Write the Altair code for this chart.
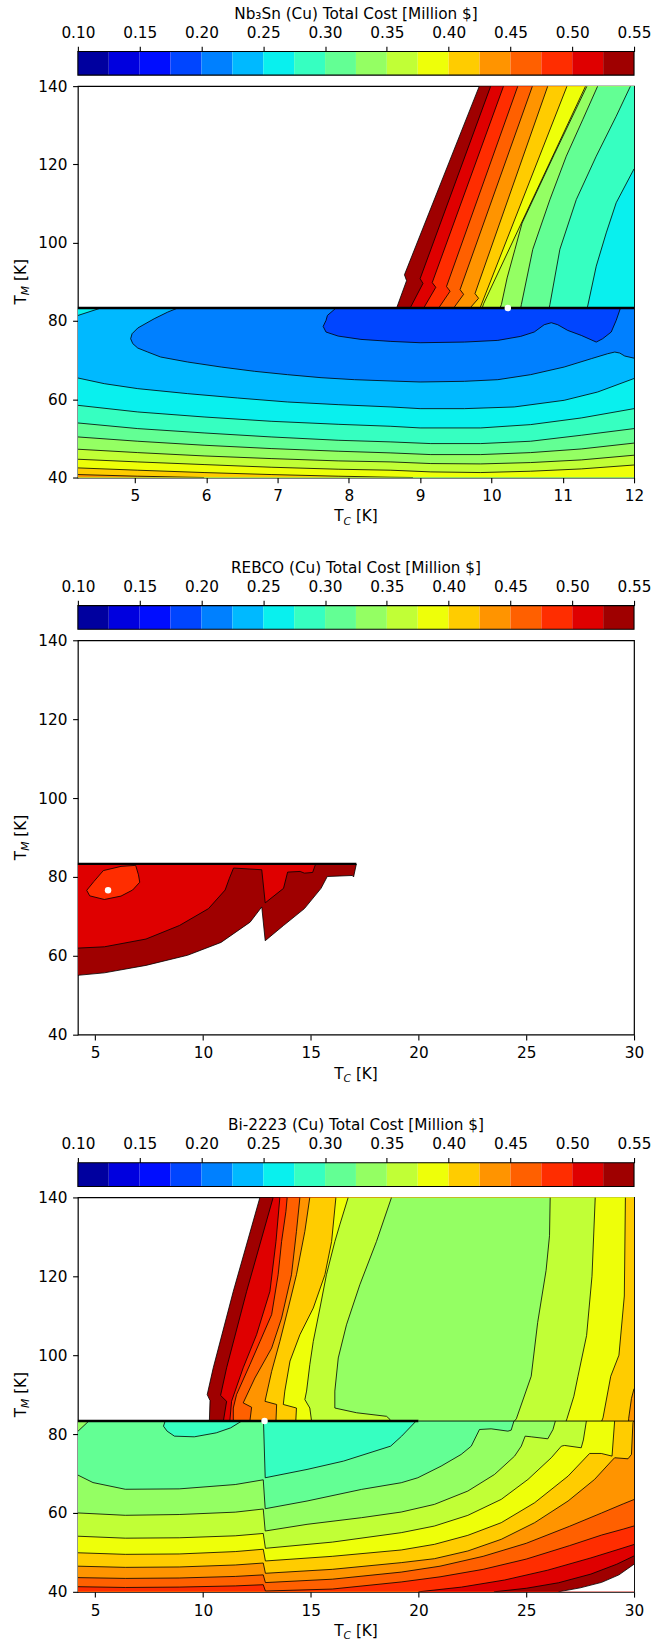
import altair as alt
import numpy as np
import pandas as pd

# ---------------- data ----------------
LEVELS = [0.100, 0.125, 0.150, 0.175, 0.200, 0.225, 0.250, 0.275, 0.300, 0.325,
          0.350, 0.375, 0.400, 0.425, 0.450, 0.475, 0.500, 0.525, 0.550]
CBAR_TICKS = [0.10, 0.15, 0.20, 0.25, 0.30, 0.35, 0.40, 0.45, 0.50, 0.55]
Y_DOMAIN = [40, 140]
Y_TICKS = [40, 60, 80, 100, 120, 140]

# ---- Nb3Sn ----
NB_X_DOMAIN = [4.2, 12.0]
NB_X_TICKS = [5, 6, 7, 8, 9, 10, 11, 12]
NB_SPLIT = 83.3
NB_DOT = (10.23, 83.3)
NB_U550 = [(9.83, 140), (8.78, 91.8), (8.81, 90.3), (8.67, 83.3)]
NB_U525 = [(9.99, 140), (9.00, 90.8), (9.04, 89.6), (8.86, 83.3)]
NB_U500 = [(10.17, 140), (9.17, 89.8), (9.22, 88.6), (9.05, 83.3)]
NB_U475 = [(10.37, 140), (9.37, 88.8), (9.42, 87.6), (9.26, 83.3)]
NB_U450 = [(10.575, 140), (9.56, 88.0), (9.61, 86.8), (9.47, 83.3)]
NB_U425 = [(10.79, 140), (9.77, 87.0), (9.82, 85.8), (9.70, 83.3)]
NB_U400 = [(11.06, 140), (9.84, 83.3)]
NB_U375 = [(11.32, 140), (9.89, 84.4), (9.87, 83.3)]
NB_U350 = [(11.34, 140), (10.88, 122.5), (10.43, 105.0), (10.33, 98.3), (10.22, 91.0), (10.14, 84.2), (10.12, 83.3)]
NB_U325 = [(11.49, 140), (11.28, 131.4), (11.05, 122.1), (10.82, 111.0), (10.58, 98.3), (10.42, 84.2), (10.41, 83.3)]
NB_U300 = [(11.95, 140), (11.75, 132.3), (11.47, 122.1), (11.19, 111.0), (10.96, 98.3), (10.82, 84.2), (10.81, 83.3)]
NB_U275 = [(12.0, 118.85), (11.75, 110.2), (11.61, 102.5), (11.47, 94.0), (11.35, 83.8), (11.34, 83.3)]
NB_L250_CORNER = [(4.2, 81.4), (4.52, 83.3)]
NB_L225 = [(5.60, 83.3), (5.46, 82.27), (5.27, 80.57), (5.04, 78.2), (4.96, 76.74), (4.94, 75.46), (4.97, 74.2),
           (5.04, 73.08), (5.18, 72.06), (5.36, 70.79), (5.74, 69.51), (6.21, 68.23), (6.68, 67.13), (7.14, 66.28),
           (7.61, 65.51), (8.08, 65.0), (8.59, 64.66), (9.0, 64.41), (9.62, 64.58), (10.09, 65.0), (10.55, 66.28),
           (11.02, 68.23), (11.40, 70.36), (11.63, 71.63), (11.73, 72.06), (11.80, 71.8), (11.87, 71.04), (12.0, 70.5)]
NB_L200 = [(7.82, 83.3), (7.70, 81.42), (7.68, 80.14), (7.64, 78.61), (7.68, 77.17), (7.85, 76.14), (8.17, 75.29),
           (8.59, 74.78), (9.0, 74.44), (9.62, 74.61), (10.09, 75.04), (10.41, 76.06), (10.60, 77.17), (10.74, 79.04),
           (10.84, 79.55), (10.93, 79.04), (11.07, 77.59), (11.26, 76.31), (11.47, 74.61), (11.56, 75.46),
           (11.68, 77.17), (11.75, 80.14), (11.81, 83.3)]
NB_L250 = [(4.2, 65.43), (4.57, 63.98), (5.04, 62.71), (5.74, 61.43), (6.44, 60.32), (7.14, 59.3), (7.85, 58.62),
           (8.59, 58.03), (9.0, 57.6), (9.62, 57.6), (10.32, 58.03), (11.02, 59.73), (11.49, 61.85), (12.0, 65.3)]
NB_L275 = [(4.2, 58.45), (5.04, 56.75), (5.97, 55.47), (6.91, 54.37), (7.85, 53.6), (8.59, 53.09), (9.0, 52.67),
           (9.85, 52.67), (10.55, 53.52), (11.26, 55.22), (12.0, 57.6)]
NB_L300 = [(4.2, 53.94), (5.04, 52.5), (5.97, 51.39), (6.91, 50.37), (7.85, 49.52), (8.59, 49.1), (9.15, 48.67),
           (9.85, 48.67), (10.55, 49.27), (11.26, 50.8), (12.0, 52.5)]
NB_L325 = [(4.2, 50.37), (5.04, 49.27), (5.97, 48.25), (6.91, 47.4), (7.85, 46.72), (8.59, 46.29), (9.15, 45.86),
           (9.85, 45.86), (10.55, 46.37), (11.26, 47.3), (12.0, 48.8)]
NB_L350 = [(4.2, 47.23), (5.04, 46.37), (5.97, 45.52), (6.91, 44.84), (7.85, 44.25), (8.59, 43.99), (9.15, 43.57),
           (9.85, 43.48), (10.55, 43.82), (11.26, 44.5), (12.0, 45.7)]
NB_L375 = [(4.2, 44.67), (5.04, 43.99), (5.97, 43.31), (6.91, 42.63), (7.85, 42.12), (8.59, 41.87), (9.15, 41.44),
           (9.85, 41.27), (10.55, 41.61), (11.26, 42.2), (12.0, 43.2)]
NB_L400 = [(4.2, 42.46), (5.04, 41.87), (5.97, 41.27), (6.91, 40.76), (7.85, 40.34), (8.59, 40.08), (8.9, 40.0)]
NB_L425 = [(4.2, 40.76), (5.04, 40.34), (5.97, 40.0)]

# ---- REBCO ----
RE_X_DOMAIN = [4.2, 30.0]
RE_X_TICKS = [5, 10, 15, 20, 25, 30]
RE_SPLIT = 83.3
RE_SPLIT_END = 17.12
RE_DOT = (5.60, 76.6)
RE_550 = [(4.2, 55.05), (5.43, 55.68), (7.36, 57.57), (9.29, 60.14), (10.84, 63.39), (12.19, 68.53), (12.73, 72.39),
          (12.89, 63.82), (13.74, 67.68), (14.71, 71.96), (15.48, 77.1), (15.77, 80.1), (16.93, 80.36), (16.99, 80.0),
          (17.12, 83.3)]
RE_525 = [(4.2, 61.95), (5.43, 62.28), (7.36, 64.25), (8.91, 67.68), (10.26, 71.96), (11.03, 76.67), (11.23, 79.67),
          (11.42, 82.25), (12.73, 81.82), (12.89, 73.42), (13.74, 77.1), (13.93, 81.22), (14.51, 81.39),
          (14.71, 80.96), (15.09, 81.13), (15.23, 83.3)]
RE_500 = [(4.61, 76.6), (4.94, 78.82), (5.38, 81.6), (6.20, 82.67), (6.88, 82.93), (7.01, 80.53), (7.07, 78.65),
          (6.74, 76.68), (6.20, 75.14), (5.43, 74.28), (4.75, 75.2), (4.61, 76.6)]

# ---- Bi-2223 ----
BI_X_DOMAIN = [4.2, 30.0]
BI_X_TICKS = [5, 10, 15, 20, 25, 30]
BI_SPLIT = 83.3
BI_SPLIT_THICK_END = 20.0
BI_DOT = (12.86, 83.3)
BI_U550 = [(12.645, 140), (11.41, 116.2), (10.48, 96.8), (10.20, 90.0), (10.33, 88.5), (10.30, 83.3)]
BI_U525 = [(13.26, 140), (12.03, 116.2), (11.10, 96.8), (10.82, 89.8), (11.10, 88.3), (10.95, 83.3)]
BI_U500 = [(13.57, 140), (13.39, 128.8), (13.11, 116.2), (12.49, 105.2), (11.87, 96.8), (11.33, 88.3), (11.25, 83.3)]
BI_U475 = [(13.91, 140), (13.85, 136.4), (13.65, 128.8), (13.49, 120.4), (13.19, 110.3), (12.65, 103.5),
           (12.18, 97.6), (11.56, 90.0), (11.41, 86.6), (11.41, 83.3)]
BI_U450 = [(14.50, 140), (14.34, 131.4), (14.11, 120.4), (13.65, 109.4), (13.19, 101.8), (12.41, 94.2),
           (11.87, 87.9), (12.26, 86.8), (12.18, 83.3)]
BI_U425 = [(14.96, 140), (14.73, 131.4), (14.34, 120.4), (13.96, 111.95), (13.57, 103.5), (13.19, 95.9),
           (12.88, 88.3), (13.42, 87.5), (13.39, 83.3)]
BI_U400 = [(16.17, 140), (15.97, 128.8), (15.66, 120.4), (15.12, 111.95), (14.50, 105.2), (14.04, 98.5),
           (13.80, 90.9), (13.73, 87.5), (14.34, 86.6), (14.31, 83.3)]
BI_U375 = [(16.74, 140), (16.35, 133.05), (16.12, 128.8), (15.73, 120.4), (15.43, 111.95), (15.12, 103.5),
           (14.96, 97.6), (14.81, 90.9), (14.73, 88.75), (14.96, 86.6), (15.04, 83.3)]
BI_U350 = [(18.75, 140), (18.05, 128.8), (17.28, 117.86), (16.66, 107.7), (16.28, 99.3), (16.12, 90.9),
           (16.12, 86.6), (17.13, 85.4), (18.52, 84.5), (18.68, 83.69), (18.75, 83.3)]
BI_U350R = [(24.45, 83.3), (24.54, 83.86), (25.23, 94.66), (25.53, 108.3), (25.92, 121.5), (26.08, 130.3), (26.11, 140)]
BI_U375R = [(26.85, 83.3), (26.89, 83.9), (27.21, 89.6), (27.4, 94.66), (27.8, 105.0), (28.05, 120.0), (28.2, 140)]
BI_U400R = [(28.5, 83.3), (28.56, 84.1), (28.92, 94.66), (29.3, 100.0), (29.55, 115.0), (29.6, 140)]
BI_U425R = [(29.75, 83.3), (29.75, 83.9), (29.88, 89.0), (30.0, 91.5)]
BI_L325_CORNER = [(4.2, 80.7), (4.71, 83.3)]
BI_L300A = [(8.25, 83.3), (8.17, 82.0), (8.34, 80.74), (8.68, 79.47), (9.60, 79.3), (10.62, 80.31), (11.29, 81.58),
            (11.80, 83.3)]
BI_L300B = [(12.81, 83.3), (12.89, 68.92), (14.83, 71.03), (16.52, 73.14), (18.71, 76.94), (19.22, 79.47),
            (19.89, 83.3)]
BI_L325 = [(4.2, 69.6), (4.9, 67.7), (6.4, 66.0), (8.9, 66.1), (11.5, 67.2), (12.8, 68.4), (12.89, 61.07),
           (14.83, 63.02), (17.36, 65.97), (19.2, 67.66), (19.97, 68.92), (21.05, 71.87), (21.98, 74.83),
           (22.45, 76.94), (22.83, 81.16), (23.37, 81.33), (24.15, 80.74), (24.3, 80.99), (24.43, 83.3)]
BI_L350 = [(4.2, 60.0), (6.4, 59.4), (8.9, 59.6), (11.5, 60.2), (12.8, 61.0), (12.89, 55.42), (14.83, 57.11),
           (17.36, 58.8), (19.2, 60.23), (20.74, 62.17), (22.29, 65.55), (23.53, 69.76), (24.46, 74.41),
           (24.77, 76.94), (24.95, 79.47), (25.23, 79.3), (26.0, 78.8), (26.24, 81.16), (26.35, 83.3)]
BI_L375 = [(4.2, 54.1), (6.4, 53.6), (8.9, 53.7), (11.5, 54.2), (12.8, 54.8), (12.9, 51.03), (16.0, 52.6),
           (19.2, 55.0), (20.74, 56.68), (22.29, 59.39), (23.84, 63.44), (25.08, 68.5), (26.16, 73.99),
           (26.63, 76.94), (26.78, 77.11), (27.55, 76.52), (27.65, 78.5), (27.79, 83.3)]
BI_L400 = [(4.2, 49.9), (6.4, 49.5), (8.9, 49.6), (11.5, 50.2), (12.8, 50.8), (12.9, 47.82), (16.0, 49.0),
           (19.2, 50.61), (20.74, 52.04), (22.29, 54.32), (23.84, 57.53), (25.39, 62.59), (26.94, 69.34),
           (27.94, 75.08), (28.48, 75.08), (28.98, 74.41), (29.1, 83.3)]
BI_L425 = [(4.2, 46.5), (6.4, 46.2), (8.9, 46.3), (11.5, 46.8), (12.8, 47.3), (12.9, 44.7), (16.0, 45.7),
           (19.2, 47.4), (20.74, 48.4), (22.29, 50.36), (23.84, 53.31), (25.39, 57.53), (26.94, 63.02),
           (28.17, 68.5), (28.95, 73.14), (29.1, 73.99), (29.72, 73.73), (29.88, 74.83), (29.95, 82.9), (30.0, 83.3)]
BI_L450 = [(4.2, 43.6), (6.4, 43.4), (8.9, 43.5), (11.5, 43.9), (12.8, 44.3), (12.9, 42.34), (16.0, 43.2),
           (19.2, 45.0), (21.0, 46.5), (23.0, 49.0), (25.0, 52.3), (27.0, 56.6), (28.5, 60.0), (29.5, 62.3),
           (30.0, 63.4)]
BI_L475 = [(4.2, 41.3), (6.4, 41.1), (8.9, 41.2), (11.5, 41.5), (12.8, 41.8), (12.9, 40.2), (16.0, 40.7),
           (19.2, 42.5), (21.0, 43.8), (23.0, 45.7), (25.0, 48.3), (27.0, 51.7), (28.5, 54.4), (29.5, 55.9),
           (30.0, 56.7)]
BI_L500 = [(20.0, 40.0), (22.0, 41.2), (24.0, 43.0), (26.0, 45.5), (28.0, 48.6), (29.3, 50.8), (30.0, 52.0)]
BI_L525 = [(23.5, 40.0), (25.0, 40.9), (26.5, 42.3), (28.0, 44.5), (29.2, 47.0), (30.0, 49.1)]
BI_L550 = [(26.5, 40.0), (27.5, 41.0), (28.5, 42.4), (29.3, 44.3), (30.0, 47.0)]

TITLES = ["Nb\u2083Sn (Cu) Total Cost [Million $]",
          "REBCO (Cu) Total Cost [Million $]",
          "Bi-2223 (Cu) Total Cost [Million $]"]

# ---------------- colours: matplotlib "jet", 18 contour bands ----------------
JET = {"r": [(0.0, 0.0), (0.35, 0.0), (0.66, 1.0), (0.89, 1.0), (1.0, 0.5)],
       "g": [(0.0, 0.0), (0.125, 0.0), (0.375, 1.0), (0.64, 1.0), (0.91, 0.0), (1.0, 0.0)],
       "b": [(0.0, 0.5), (0.11, 1.0), (0.34, 1.0), (0.65, 0.0), (1.0, 0.0)]}


def jet(t):
    idx = min(int(t * 256), 255)
    xx = idx / 255.0
    comp = [np.interp(xx, [p[0] for p in JET[c]], [p[1] for p in JET[c]]) for c in "rgb"]
    return "#%02x%02x%02x" % tuple(int(round(v * 255)) for v in comp)


NB = len(LEVELS) - 1
BANDS = ["b%02d" % k for k in range(NB + 1)]
BAND_COLORS = [jet((k + 0.5) / NB) for k in range(NB)] + ["#ffffff"]
FILL_SCALE = alt.Scale(domain=BANDS, range=BAND_COLORS)


def band(level, side):
    k = LEVELS.index(level)
    return BANDS[k - 1] if side == "below" else BANDS[k]


def build(polys):
    prow, lrow = [], []
    for n, (level, side, pts, corners) in enumerate(polys):
        pid = "p%03d" % n
        b = band(level, side)
        for i, (x, y) in enumerate(list(pts) + list(corners)):
            prow.append({"pid": pid, "i": i, "x": x, "y": y, "band": b})
        for i, (x, y) in enumerate(pts):
            lrow.append({"lid": pid, "i": i, "x": x, "y": y})
    return pd.DataFrame(prow), pd.DataFrame(lrow)


def box(x0, x1, y0, y1):
    return [(x0, y0), (x1, y0), (x1, y1), (x0, y1)]


x0, x1 = NB_X_DOMAIN
NB_POLYS = [
    (0.25, "below", [], box(x0, x1, Y_DOMAIN[0], NB_SPLIT)),
    (0.25, "above", NB_L250, [(x1, 40), (x0, 40)]),
    (0.275, "above", NB_L275, [(x1, 40), (x0, 40)]),
    (0.3, "above", NB_L300, [(x1, 40), (x0, 40)]),
    (0.325, "above", NB_L325, [(x1, 40), (x0, 40)]),
    (0.35, "above", NB_L350, [(x1, 40), (x0, 40)]),
    (0.375, "above", NB_L375, [(x1, 40), (x0, 40)]),
    (0.4, "above", NB_L400, [(x0, 40)]),
    (0.425, "above", NB_L425, [(x0, 40)]),
    (0.25, "above", NB_L250_CORNER, [(x0, NB_SPLIT)]),
    (0.225, "below", NB_L225, [(x1, NB_SPLIT)]),
    (0.2, "below", NB_L200, []),
    (0.55, "below", NB_U550, [(x1, NB_SPLIT), (x1, 140)]),
    (0.525, "below", NB_U525, [(x1, NB_SPLIT), (x1, 140)]),
    (0.5, "below", NB_U500, [(x1, NB_SPLIT), (x1, 140)]),
    (0.475, "below", NB_U475, [(x1, NB_SPLIT), (x1, 140)]),
    (0.45, "below", NB_U450, [(x1, NB_SPLIT), (x1, 140)]),
    (0.425, "below", NB_U425, [(x1, NB_SPLIT), (x1, 140)]),
    (0.4, "below", NB_U400, [(x1, NB_SPLIT), (x1, 140)]),
    (0.375, "below", NB_U375, [(x1, NB_SPLIT), (x1, 140)]),
    (0.35, "below", NB_U350, [(x1, NB_SPLIT), (x1, 140)]),
    (0.325, "below", NB_U325, [(x1, NB_SPLIT), (x1, 140)]),
    (0.3, "below", NB_U300, [(x1, NB_SPLIT), (x1, 140)]),
    (0.275, "below", NB_U275, [(x1, NB_SPLIT)]),
]

r0 = RE_X_DOMAIN[0]
RE_POLYS = [
    (0.55, "below", RE_550, [(r0, RE_SPLIT)]),
    (0.525, "below", RE_525, [(r0, RE_SPLIT)]),
    (0.5, "below", RE_500, []),
]

b0, b1 = BI_X_DOMAIN
BOT = [(b1, 40), (b0, 40)]
BI_POLYS = [
    (0.325, "below", [], box(b0, b1, Y_DOMAIN[0], BI_SPLIT)),
    (0.325, "above", BI_L325_CORNER, [(b0, BI_SPLIT)]),
    (0.325, "above", BI_L325, [(b1, BI_SPLIT)] + BOT),
    (0.35, "above", BI_L350, [(b1, BI_SPLIT)] + BOT),
    (0.375, "above", BI_L375, [(b1, BI_SPLIT)] + BOT),
    (0.4, "above", BI_L400, [(b1, BI_SPLIT)] + BOT),
    (0.425, "above", BI_L425, BOT),
    (0.45, "above", BI_L450, BOT),
    (0.475, "above", BI_L475, BOT),
    (0.5, "above", BI_L500, [(b1, 40)]),
    (0.525, "above", BI_L525, [(b1, 40)]),
    (0.55, "above", BI_L550, [(b1, 40)]),
    (0.3, "below", BI_L300A, []),
    (0.3, "below", BI_L300B, []),
    (0.55, "below", BI_U550, [(b1, BI_SPLIT), (b1, 140)]),
    (0.525, "below", BI_U525, [(b1, BI_SPLIT), (b1, 140)]),
    (0.5, "below", BI_U500, [(b1, BI_SPLIT), (b1, 140)]),
    (0.475, "below", BI_U475, [(b1, BI_SPLIT), (b1, 140)]),
    (0.45, "below", BI_U450, [(b1, BI_SPLIT), (b1, 140)]),
    (0.425, "below", BI_U425, [(b1, BI_SPLIT), (b1, 140)]),
    (0.4, "below", BI_U400, [(b1, BI_SPLIT), (b1, 140)]),
    (0.375, "below", BI_U375, [(b1, BI_SPLIT), (b1, 140)]),
    (0.35, "below", BI_U350, [(b1, BI_SPLIT), (b1, 140)]),
    (0.35, "above", BI_U350R, [(b1, 140), (b1, BI_SPLIT)]),
    (0.375, "above", BI_U375R, [(b1, 140), (b1, BI_SPLIT)]),
    (0.4, "above", BI_U400R, [(b1, 140), (b1, BI_SPLIT)]),
    (0.425, "above", BI_U425R, [(b1, BI_SPLIT)]),
]

# ---------------- layout constants ----------------
W = 557
FONT = "DejaVu Sans"
FS = 15.3
SUB = 10.7
CB_TOP, CB_BOT = -34.7, -11.0


def text(s, x, y, size=FS, angle=0, italic=False, align="left"):
    kw = dict(text=s, font=FONT, fontSize=size, color="black", align=align, baseline="alphabetic")
    if angle:
        kw["angle"] = angle
    if italic:
        kw["fontStyle"] = "italic"
    return alt.Chart(pd.DataFrame({"k": [0]})).mark_text(**kw).encode(x=alt.value(x), y=alt.value(y))


def panel(polys, xdom, xticks, dot, thick_end, split, title, H, thin_end=None):
    pdf, ldf = build(polys)
    xs = alt.Scale(domain=xdom, nice=False, zero=False)
    ys = alt.Scale(domain=Y_DOMAIN, nice=False, zero=False)
    xax = alt.Axis(values=xticks, title=None, domain=False, grid=False, labelPadding=6,
                   labelFlush=False, labelOverlap=False)
    yax = alt.Axis(values=Y_TICKS, title=None, domain=False, grid=False, labelPadding=5.6,
                   labelFlush=False, labelOverlap=False)

    def X(f):
        return alt.X(f, type="quantitative", scale=xs, axis=xax)

    def Y(f):
        return alt.Y(f, type="quantitative", scale=ys, axis=yax)

    fills = alt.Chart(pdf).mark_line(interpolate="linear-closed", strokeWidth=0, strokeOpacity=0,
                                     clip=True).encode(
        x=X("x"), y=Y("y"),
        fill=alt.Fill("band:N", scale=FILL_SCALE, legend=None),
        detail="pid:N", order=alt.Order("i:Q"))
    lines = alt.Chart(ldf).mark_line(color="black", strokeWidth=0.8, clip=True).encode(
        x=X("x"), y=Y("y"), detail="lid:N", order=alt.Order("i:Q"))
    layers = [fills, lines]
    if thin_end is not None:
        layers.append(alt.Chart(pd.DataFrame({"x0": [thick_end], "x1": [thin_end], "y": [split]}))
                      .mark_rule(color="black", strokeWidth=0.9).encode(x=X("x0"), x2="x1", y=Y("y")))
    layers.append(alt.Chart(pd.DataFrame({"x0": [xdom[0]], "x1": [thick_end], "y": [split]}))
                  .mark_rule(color="black", strokeWidth=2.4).encode(x=X("x0"), x2="x1", y=Y("y")))
    layers.append(alt.Chart(pd.DataFrame({"x": [dot[0]], "y": [dot[1]]}))
                  .mark_circle(color="white", opacity=1, size=42).encode(x=X("x"), y=Y("y")))
    # axis titles with subscripts
    yb = H / 2 + 22.7
    layers += [
        text("T", -51.7, yb, angle=270),
        text("M", -48.5, yb - 9.35, size=SUB, angle=270, italic=True),
        text("[K]", -51.7, yb - 9.35 - 9.2 - 4.9, angle=270),
    ]
    xb = W / 2 - 21.8
    layers += [
        text("T", xb, H + 44),
        text("C", xb + 9.35, H + 47.2, size=SUB, italic=True),
        text("[K]", xb + 9.35 + 7.5 + 4.9, H + 44),
        text(title, W / 2, -67.6, align="center"),
    ]
    inner = alt.layer(*layers)

    cdf = pd.DataFrame({"lo": LEVELS[:-1], "hi": LEVELS[1:], "band": BANDS[:NB]})
    cs = alt.Scale(domain=[LEVELS[0], LEVELS[-1]], nice=False, zero=False)
    cax = alt.Axis(orient="top", offset=-CB_TOP, values=CBAR_TICKS, format=".2f", domain=False, grid=False,
                   title=None, labelPadding=6, labelFlush=False, labelOverlap=False)
    cells = alt.Chart(cdf).mark_rect().encode(
        x=alt.X("lo:Q", scale=cs, axis=cax), x2="hi:Q",
        y=alt.value(CB_TOP), y2=alt.value(CB_BOT),
        fill=alt.Fill("band:N", scale=FILL_SCALE, legend=None))
    outline = alt.Chart(pd.DataFrame({"lo": [LEVELS[0]], "hi": [LEVELS[-1]]})).mark_rect(
        fillOpacity=0, stroke="black", strokeWidth=1.1).encode(
        x=alt.X("lo:Q", scale=cs, axis=cax), x2="hi:Q",
        y=alt.value(CB_TOP), y2=alt.value(CB_BOT))
    cbar = alt.layer(cells, outline)
    return alt.layer(inner, cbar).resolve_scale(x="independent").properties(width=W, height=H)


p1 = panel(NB_POLYS, NB_X_DOMAIN, NB_X_TICKS, NB_DOT, NB_X_DOMAIN[1], NB_SPLIT, TITLES[0], 392)
p2 = panel(RE_POLYS, RE_X_DOMAIN, RE_X_TICKS, RE_DOT, RE_SPLIT_END, RE_SPLIT, TITLES[1], 395)
p3 = panel(BI_POLYS, BI_X_DOMAIN, BI_X_TICKS, BI_DOT, BI_SPLIT_THICK_END, BI_SPLIT, TITLES[2], 395,
           thin_end=BI_X_DOMAIN[1])

chart = alt.vconcat(p1, p2, p3, spacing=32).properties(
    padding={"left": 13, "top": 4, "right": 0, "bottom": 0}, background="white"
).configure(font=FONT).configure_view(stroke="black", strokeWidth=1.2).configure_axis(
    labelFont=FONT, labelFontSize=FS, labelColor="black", tickColor="black", tickWidth=1.1,
    tickSize=5.3, domainColor="black"
)

chart.save("out.html", embed_options={"renderer": "svg", "actions": False})
